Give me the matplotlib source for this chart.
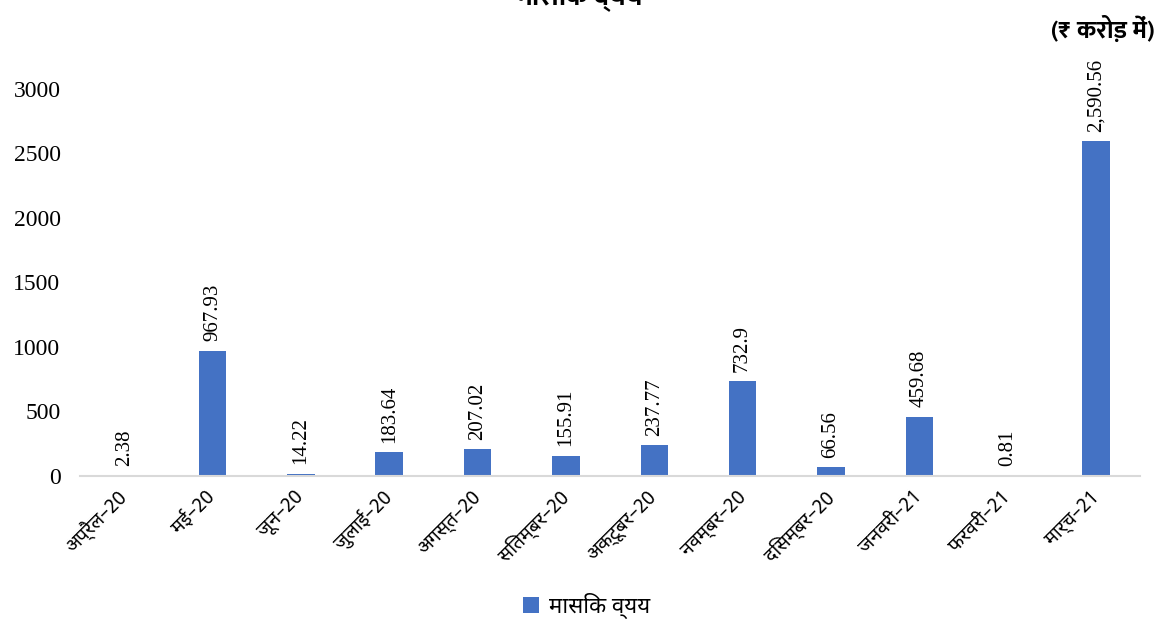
import matplotlib
matplotlib.use("Agg")
import matplotlib.pyplot as plt
from matplotlib import font_manager

# Monthly expenditure (₹ crore), April 2020 – March 2021
months = ["अप्रैल–20", "मई–20", "जून–20", "जुलाई–20", "अगस्त–20", "सितम्बर–20",
          "अक्टूबर–20", "नवम्बर–20", "दिसम्बर–20", "जनवरी–21", "फरवरी–21", "मार्च–21"]
spend = [2.38, 967.93, 14.22, 183.64, 207.02, 155.91,
         237.77, 732.9, 66.56, 459.68, 0.81, 2590.56]
y_ticks = [0, 500, 1000, 1500, 2000, 2500, 3000]
series_name = "मासिक व्यय"
title_text = "मासिक व्यय"
unit_text = "(₹ करोड़ में)"

# pick installed Devanagari-capable families (one with a bold face for headings)
fonts = font_manager.fontManager.ttflist
names = {f.name for f in fonts}
bold_names = {f.name for f in fonts if f.weight in ("bold", 700, "700")}
cands = ["Noto Sans Devanagari", "Mukta", "Hind", "Poppins", "Ek Mukta",
         "Biryani", "Amiko", "FreeSans"]
deva = next((n for n in cands if n in names), "FreeSans")
deva_bold = next((n for n in cands if n in bold_names), deva)
deva_fam = [deva, "DejaVu Sans"]
deva_bold_fam = [deva_bold, "DejaVu Sans"]
serif = "Liberation Serif"

bar_color = "#4472C4"

fig = plt.figure(figsize=(11.59, 6.22), dpi=100)
ax = fig.add_axes([0.069, 0.2347, 0.9147, 0.6229])

x = list(range(len(months)))
bars = ax.bar(x, spend, width=0.31, color=bar_color, label=series_name, zorder=2)

for xi, v in zip(x, spend):
    ax.annotate(format(v, ","), (xi, v), xytext=(0, 7), textcoords="offset points",
                rotation=90, ha="center", va="bottom", fontsize=15,
                family=serif, color="black", annotation_clip=False)

ax.set_xlim(-0.5, len(months) - 0.5)
ax.set_ylim(0, 3000)
ax.set_yticks(y_ticks)
ax.set_yticklabels([str(t) for t in y_ticks], family=serif, fontsize=17)
ax.set_xticks(x)
ax.set_xticklabels(months, rotation=45, ha="right", va="center",
                   rotation_mode="anchor", family=deva_fam, fontsize=14)
ax.tick_params(axis="y", length=0, pad=14)
ax.tick_params(axis="x", length=0, pad=13)

for side in ["top", "right", "left"]:
    ax.spines[side].set_visible(False)
ax.spines["bottom"].set_color("#d9d9d9")
ax.spines["bottom"].set_linewidth(1.5)
ax.spines["bottom"].set_zorder(3)

# heading (sits at the very top edge) and unit note
fig.text(0.5, 1 - 4 / 622, title_text, ha="center", va="baseline",
         fontsize=20, fontweight="bold", family=deva_bold_fam)
fig.text(0.996, 1 - 30 / 622, unit_text, ha="right", va="center",
         fontsize=18, fontweight="bold", fontstyle="italic", family=deva_bold_fam)

fig.legend(handles=[bars], labels=[series_name], loc="center",
           bbox_to_anchor=(0.506, 1 - 606 / 622), frameon=False,
           prop={"family": deva_fam, "size": 16},
           handlelength=0.7, handleheight=0.7, handletextpad=0.45,
           borderpad=0.1)

fig.savefig("out.png", dpi=100)
